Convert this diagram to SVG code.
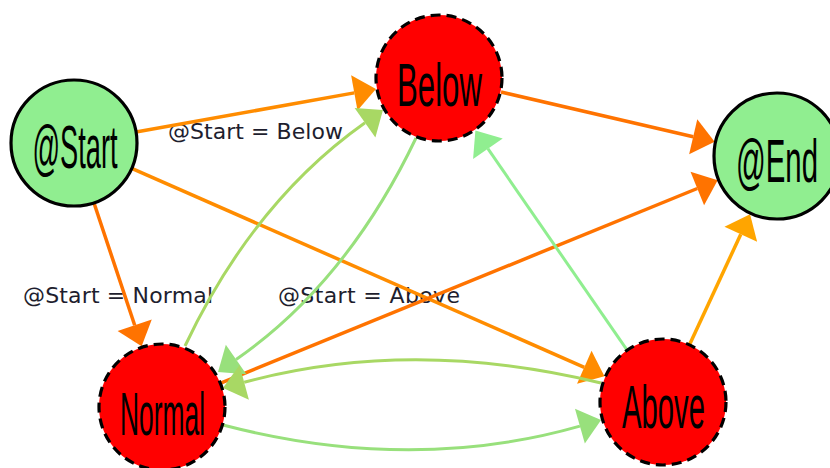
<svg xmlns="http://www.w3.org/2000/svg" width="830" height="468" viewBox="0 0 830 468">
  <style>
    .bg { fill: #ffffff; }
    .edge { fill: none; stroke-linecap: butt; }
    .orange { stroke-width: 3.5; }
    .green { stroke-width: 3; }
    .label { font-family: "DejaVu Sans", "Liberation Sans", sans-serif; font-size: 22px; fill: #1e1e2e; }
    .node circle { stroke: #000; stroke-width: 3.2; }
    .terminal circle { fill: #90ee90; }
    .state circle { fill: #ff0000; stroke-dasharray: 10 6; }
    .node text { font-family: "Liberation Sans", Arial, sans-serif; font-size: 62px; fill: #000; text-anchor: middle; }
  </style>
  <defs>
    <marker id="ah-o1" markerUnits="userSpaceOnUse" markerWidth="24" markerHeight="40" refX="0" refY="18" orient="auto" overflow="visible">
      <path d="M0,0 L22,18 L0,36 z" fill="#ff8c00"/>
    </marker>
    <marker id="ah-o2" markerUnits="userSpaceOnUse" markerWidth="24" markerHeight="40" refX="0" refY="18" orient="auto" overflow="visible">
      <path d="M0,0 L22,18 L0,36 z" fill="#ff7300"/>
    </marker>
    <marker id="ah-o3" markerUnits="userSpaceOnUse" markerWidth="24" markerHeight="40" refX="0" refY="18" orient="auto" overflow="visible">
      <path d="M0,0 L22,18 L0,36 z" fill="#ffa500"/>
    </marker>
    <marker id="ah-g1" markerUnits="userSpaceOnUse" markerWidth="24" markerHeight="40" refX="0" refY="18" orient="auto" overflow="visible">
      <path d="M0,0 L22,18 L0,36 z" fill="#90ee90"/>
    </marker>
    <marker id="ah-g2" markerUnits="userSpaceOnUse" markerWidth="24" markerHeight="40" refX="0" refY="18" orient="auto" overflow="visible">
      <path d="M0,0 L22,18 L0,36 z" fill="#98e07c"/>
    </marker>
    <marker id="ah-g3" markerUnits="userSpaceOnUse" markerWidth="24" markerHeight="40" refX="0" refY="18" orient="auto" overflow="visible">
      <path d="M0,0 L22,18 L0,36 z" fill="#a8d864"/>
    </marker>
  </defs>

  <rect class="bg" x="0" y="0" width="830" height="468"/>

  <!-- transition guards -->
  <g id="edge-labels">
    <text class="label" x="168" y="139" textLength="175">@Start = Below</text>
    <text class="label" x="23" y="303" textLength="190">@Start = Normal</text>
    <text class="label" x="278" y="303" textLength="182">@Start = Above</text>
  </g>

  <!-- transitions -->
  <g id="connectors">
    <path id="e-start-below" class="edge orange" stroke="#ff8c00" d="M136,132 L354.3,92.9" marker-end="url(#ah-o1)"/>
    <path id="e-start-normal" class="edge orange" stroke="#ff7300" d="M94,203 L134.7,325.3" marker-end="url(#ah-o2)"/>
    <path id="e-start-above" class="edge orange" stroke="#ff8c00" d="M131.7,168.4 L584.3,367.3" marker-end="url(#ah-o1)"/>
    <path id="e-below-end" class="edge orange" stroke="#ff7300" d="M501,92 L693.2,136.7" marker-end="url(#ah-o2)"/>
    <path id="e-normal-end" class="edge orange" stroke="#ff7300" d="M221.3,382.8 L697.3,188.5" marker-end="url(#ah-o2)"/>
    <path id="e-above-end" class="edge orange" stroke="#ffa500" d="M689.5,344.8 L740.8,234.2" marker-end="url(#ah-o3)"/>
    <path id="e-above-below" class="edge green" stroke="#90ee90" d="M626.6,349.4 L487.9,148.7" marker-end="url(#ah-g1)"/>
    <path id="e-normal-below" class="edge green" stroke="#a8d864" d="M185,346 Q253,202 365,122.7" marker-end="url(#ah-g3)"/>
    <path id="e-below-normal" class="edge green" stroke="#98e07c" d="M416,138 Q347,282.5 236.1,359.5" marker-end="url(#ah-g2)"/>
    <path id="e-above-normal" class="edge green" stroke="#a8d864" d="M601,383 Q412,337 244.2,382.3" marker-end="url(#ah-g3)"/>
    <path id="e-normal-above" class="edge green" stroke="#98e07c" d="M223,425 Q412,474 579.9,426.1" marker-end="url(#ah-g2)"/>
  </g>

  <!-- states -->
  <g id="node-start" class="node terminal">
    <circle cx="74" cy="143" r="63"/>
    <text x="75" y="168" textLength="85" lengthAdjust="spacingAndGlyphs">@Start</text>
  </g>
  <g id="node-below" class="node state">
    <circle cx="439" cy="78" r="63"/>
    <text x="439.5" y="106" textLength="85" lengthAdjust="spacingAndGlyphs">Below</text>
  </g>
  <g id="node-end" class="node terminal">
    <circle cx="777" cy="156" r="63"/>
    <text x="777" y="182" textLength="82" lengthAdjust="spacingAndGlyphs">@End</text>
  </g>
  <g id="node-normal" class="node state">
    <circle cx="162" cy="407" r="63"/>
    <text x="162.5" y="435" textLength="85" lengthAdjust="spacingAndGlyphs">Normal</text>
  </g>
  <g id="node-above" class="node state">
    <circle cx="663" cy="402" r="63"/>
    <text x="663.5" y="428" textLength="83" lengthAdjust="spacingAndGlyphs">Above</text>
  </g>
</svg>
